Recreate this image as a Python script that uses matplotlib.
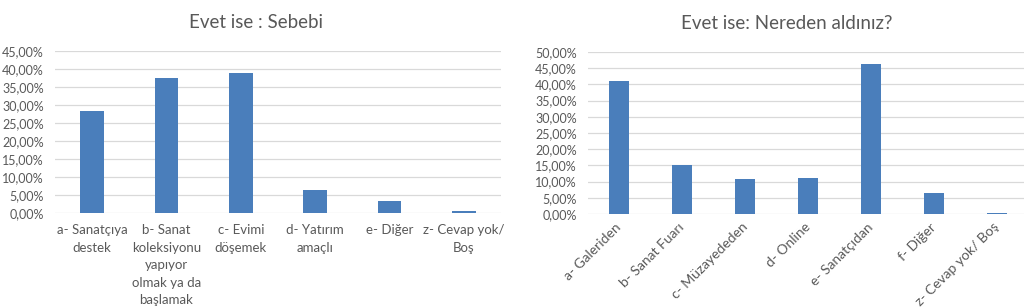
import matplotlib
matplotlib.use("Agg")
import matplotlib.pyplot as plt
from matplotlib.ticker import FuncFormatter, MultipleLocator
import numpy as np

plt.rcParams['font.family'] = ['Lato', 'DejaVu Sans']

# left chart data
sebep_labels = ['a- Sanatçıya\ndestek', 'b- Sanat\nkoleksiyonu\nyapıyor\nolmak ya da\nbaşlamak',
                'c- Evimi\ndöşemek', 'd- Yatırım\namaçlı', 'e- Diğer', 'z- Cevap yok/\nBoş']
sebep_values = [0.282, 0.376, 0.390, 0.065, 0.034, 0.007]

# right chart data
nereden_labels = ['a- Galeriden', 'b- Sanat Fuarı', 'c- Müzayededen', 'd- Online',
                  'e- Sanatçıdan', 'f- Diğer', 'z- Cevap yok/ Boş']
nereden_values = [0.411, 0.150, 0.109, 0.111, 0.462, 0.064, 0.004]

bar_color = '#4A7EBB'
grid_color = '#D9D9D9'
text_color = '#595959'

pct = FuncFormatter(lambda v, pos: f"{v*100:.2f}%".replace('.', ','))


def style_axes(ax, ymax):
    ax.set_ylim(0, ymax)
    ax.yaxis.set_major_locator(MultipleLocator(0.05))
    ax.yaxis.set_major_formatter(pct)
    ax.grid(axis='y', color=grid_color, linewidth=0.9)
    ax.set_axisbelow(True)
    for s in ax.spines.values():
        s.set_visible(False)
    ax.tick_params(length=0, colors=text_color)
    ax.tick_params(axis='y', labelsize=9, pad=8)
    ax.tick_params(axis='x', labelsize=9.5)


fig = plt.figure(figsize=(10.24, 3.07), dpi=100)

ax1 = fig.add_axes([0.0537, 0.306, 0.4355, 0.528])
x1 = np.arange(len(sebep_labels))
ax1.bar(x1, sebep_values, width=0.32, color=bar_color)
ax1.set_xlim(-0.5, len(sebep_labels) - 0.5)
style_axes(ax1, 0.45)
ax1.set_xticks(x1)
ax1.set_xticklabels(sebep_labels, linespacing=1.55)
ax1.tick_params(axis='x', pad=8)
fig.text(0.25, 0.928, 'Evet ise : Sebebi', ha='center', va='center', fontsize=13.5, color=text_color)

ax2 = fig.add_axes([0.574, 0.303, 0.4307, 0.528])
x2 = np.arange(len(nereden_labels))
ax2.bar(x2, nereden_values, width=0.32, color=bar_color)
ax2.set_xlim(-0.5, len(nereden_labels) - 0.5)
style_axes(ax2, 0.50)
ax2.set_xticks(x2)
ax2.set_xticklabels(nereden_labels, rotation=45, ha='right', va='center',
                    rotation_mode='anchor', fontsize=10)
ax2.tick_params(axis='x', pad=8)
fig.text(0.768, 0.922, 'Evet ise: Nereden aldınız?', ha='center', va='center', fontsize=13.5, color=text_color)

fig.savefig('out.png', dpi=100)
